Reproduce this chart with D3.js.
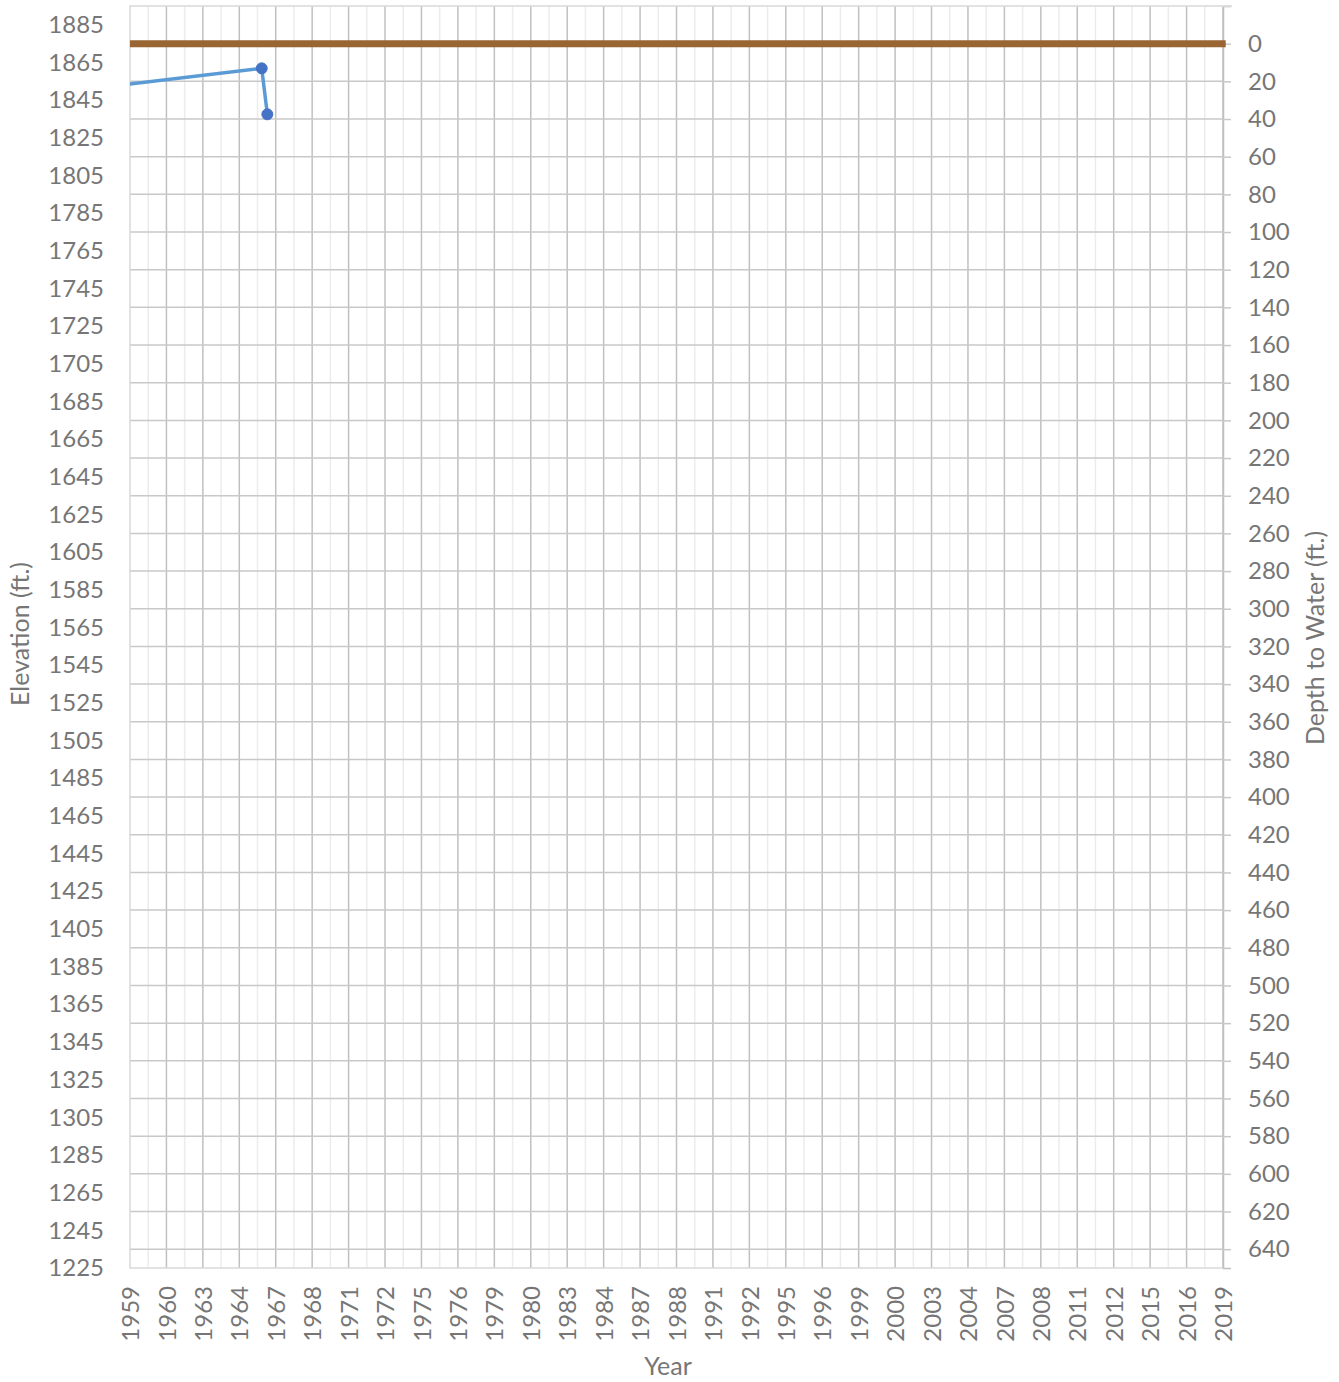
<!DOCTYPE html>
<html><head><meta charset="utf-8">
<script src="https://cdn.jsdelivr.net/npm/d3@7"></script>
<style>body{margin:0;background:#fff;}svg{display:block;font-family:Lato,"Open Sans",sans-serif;}</style>
</head><body>
<script>
// Data
const xTickLabels = ["1959","1960","1963","1964","1967","1968","1971","1972","1975","1976","1979","1980","1983","1984","1987","1988","1991","1992","1995","1996","1999","2000","2003","2004","2007","2008","2011","2012","2015","2016","2019"];
const landSurfaceElev = 1875;
const landDates = [1959.0, 2019.15];
const waterDates = [1955.0, 1966.23, 1966.54];
const depthToWater = [26.0, 13.1, 37.5];
const leftTicks = d3.range(1225, 1886, 20);
const rightTicks = d3.range(-20, 641, 20);

const W = 1339, H = 1382;
const m = {left:130, right:1223, top:6, bottom:1268};
const svg = d3.select("body").append("svg").attr("width", W).attr("height", H);

const x = d3.scaleLinear().domain([1959, 2019]).range([m.left, m.right]);
const yL = d3.scaleLinear().domain([1225, 1895]).range([m.bottom, m.top]);
const yR = d3.scaleLinear().domain([-20, 650]).range([m.top, m.bottom]);

const textCol = "#767676";
const fs = 24;
const tfs = 25;

// minor vertical gridlines
const minorX = d3.range(1960, 2019, 2);
svg.append("g").selectAll("line").data(minorX).join("line")
  .attr("x1", d => x(d)).attr("x2", d => x(d)).attr("y1", m.top).attr("y2", m.bottom)
  .attr("stroke", "#ececec").attr("stroke-width", 1.5);
// major vertical gridlines
const majorX = d3.range(1961, 2020, 2);
svg.append("g").selectAll("line").data(majorX).join("line")
  .attr("x1", d => x(d)).attr("x2", d => x(d)).attr("y1", m.top).attr("y2", m.bottom)
  .attr("stroke", "#c0c0c0").attr("stroke-width", 1.5);

// horizontal gridlines (secondary axis)
svg.append("g").selectAll("line").data(rightTicks.filter(d => d >= 0)).join("line")
  .attr("x1", m.left).attr("x2", m.right).attr("y1", d => yR(d)).attr("y2", d => yR(d))
  .attr("stroke", "#c8c8c8").attr("stroke-width", 1.5);

// right axis
const gR = svg.append("g").attr("transform", `translate(${m.right},0)`)
  .call(d3.axisRight(yR).tickValues(rightTicks).tickSize(8).tickPadding(17)
    .tickFormat(d => d < 0 ? "" : d));
gR.select(".domain").attr("stroke", "#c0c0c0").attr("stroke-width", 1.5);
gR.selectAll(".tick line").attr("stroke", d => d < 0 ? "#d9d9d9" : "#c8c8c8").attr("stroke-width", 1.5);
gR.selectAll("text").attr("fill", textCol).style("font-size", fs + "px").style("font-family", "Lato");

// left axis
const gL = svg.append("g").attr("transform", `translate(${m.left},0)`)
  .call(d3.axisLeft(yL).tickValues(leftTicks).tickSize(0).tickPadding(26).tickFormat(d3.format("d")));
gL.select(".domain").remove();
gL.selectAll("text").attr("fill", textCol).style("font-size", fs + "px").style("font-family", "Lato");

// bottom axis
const xTickVals = xTickLabels.map((d, i) => 1959 + 2 * i);
const gB = svg.append("g").attr("transform", `translate(0,${m.bottom})`)
  .call(d3.axisBottom(x).tickValues(xTickVals).tickSize(0).tickFormat((d, i) => xTickLabels[i]));
gB.select(".domain").remove();
gB.selectAll("text").attr("fill", textCol).style("font-size", fs + "px").style("font-family", "Lato")
  .attr("transform", "rotate(-90)").attr("text-anchor", "end").attr("dy", "0.36em").attr("x", -18).attr("y", 0);

// plot border (light)
svg.append("path").attr("d", `M${m.right},${m.top}H${m.left}V${m.bottom}H${m.right}`)
  .attr("fill", "none").attr("stroke", "#d9d9d9").attr("stroke-width", 1.5);
svg.append("line").attr("x1", m.right).attr("x2", m.right + 9).attr("y1", m.top).attr("y2", m.top)
  .attr("stroke", "#d9d9d9").attr("stroke-width", 1.5);

// clip
svg.append("clipPath").attr("id", "clip").append("rect")
  .attr("x", m.left).attr("y", m.top - 10).attr("width", m.right - m.left + 10).attr("height", m.bottom - m.top + 10);
const plot = svg.append("g").attr("clip-path", "url(#clip)");

// land surface line
const landLine = d3.line().x(d => x(d)).y(() => yL(landSurfaceElev));
plot.append("path").datum(landDates).attr("d", landLine)
  .attr("fill", "none").attr("stroke", "#996633").attr("stroke-width", 7);

// water level line
const waterData = waterDates.map((d, i) => ({t: d, depth: depthToWater[i]}));
svg.append("clipPath").attr("id", "clip2").append("rect")
  .attr("x", m.left).attr("y", m.top).attr("width", m.right - m.left).attr("height", m.bottom - m.top);
const plot2 = svg.append("g").attr("clip-path", "url(#clip2)");
plot2.append("path").datum(waterData)
  .attr("d", d3.line().x(d => x(d.t)).y(d => yR(d.depth)))
  .attr("fill", "none").attr("stroke", "#5b9bd5").attr("stroke-width", 3.5).attr("stroke-linejoin", "round");
plot2.selectAll("circle").data(waterData).join("circle")
  .attr("cx", d => x(d.t)).attr("cy", d => yR(d.depth)).attr("r", 5.5)
  .attr("fill", "#4472c4").attr("stroke", "#4472c4").attr("stroke-width", 1);

// titles
svg.append("text").attr("x", 668).attr("y", 1375).attr("text-anchor", "middle")
  .attr("fill", textCol).style("font-size", tfs + "px").text("Year");
svg.append("text").attr("transform", `translate(29,${634}) rotate(-90)`).attr("text-anchor", "middle")
  .attr("fill", textCol).style("font-size", tfs + "px").text("Elevation (ft.)");
svg.append("text").attr("transform", `translate(1324,${638}) rotate(-90)`).attr("text-anchor", "middle")
  .attr("fill", textCol).style("font-size", tfs + "px").text("Depth to Water (ft.)");
</script>
</body></html>
